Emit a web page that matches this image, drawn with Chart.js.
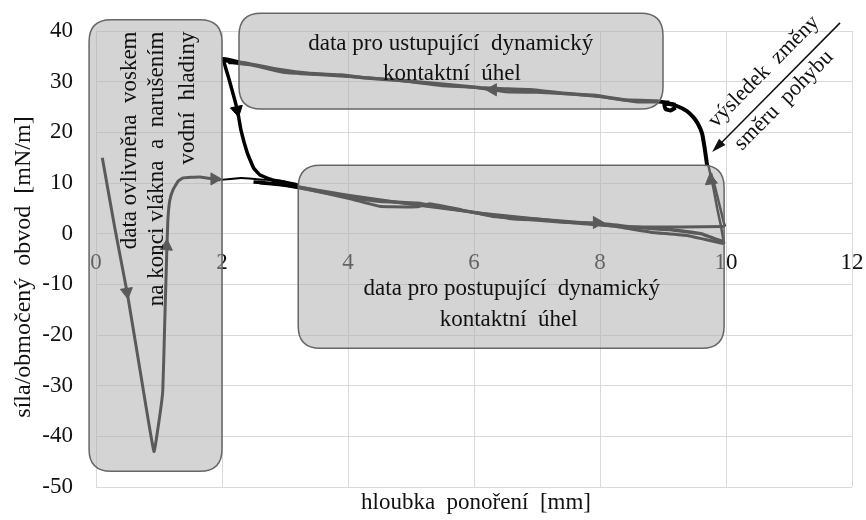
<!DOCTYPE html>
<html>
<head>
<meta charset="utf-8">
<script src="https://cdn.jsdelivr.net/npm/chart.js@4.4.1/dist/chart.umd.min.js"></script>
<style>
  html, body { margin: 0; padding: 0; background: #fff; }
  #wrap { width: 866px; height: 520px; }
</style>
</head>
<body>
<div id="wrap"><canvas id="chart" width="866" height="520"></canvas></div>
<script>
// x ticks / y ticks
const xTicks = [0, 2, 4, 6, 8, 10, 12];
const yTicks = [-50, -40, -30, -20, -10, 0, 10, 20, 30, 40];

// wax-affected start
const waxX = [0.1, 0.3, 0.5, 0.7, 0.92, 1.0, 1.06, 1.09, 1.12, 1.14, 1.17, 1.22, 1.3, 1.38, 1.65, 1.97];
const waxY = [15, 1, -12, -27, -43, -37, -31, -18, -5, 2.5, 6.5, 8.6, 10.3, 11, 11.2, 10.6];

// first cycle transitions
const flatX = [1.97, 2.3, 2.6, 2.9, 3.2];
const flatY = [10.6, 11.0, 10.7, 10.5, 9.8];
const downX = [2.29, 2.02, 2.1, 2.2, 2.25, 2.3, 2.4, 2.5, 2.6, 2.8, 3.0, 3.2];
const downY = [33.8, 34.6, 31, 26.5, 24, 20.5, 16, 13, 11.6, 10.6, 10.1, 9.4];
const turnX = [9.70, 9.66, 9.62, 9.55, 9.48, 9.38, 9.22, 9.1, 9.02, 9.04, 9.12, 9.2];
const turnY = [13.5, 17, 19.8, 21.8, 23.0, 24.2, 25.2, 25.6, 25.5, 24.6, 24.3, 24.9];

// advancing
const adv1X = [2.5, 2.9, 3.2, 3.6, 4.0, 4.5, 5.1, 5.6, 6.1, 6.6, 7.0, 7.4, 8.0, 8.6, 9.1, 9.6, 9.95];
const adv1Y = [10.2, 9.8, 9.2, 8.2, 7.3, 6.4, 6.0, 5.0, 4.0, 3.0, 2.7, 2.3, 2.0, 1.2, 0.8, 0.0, -1.6];
const adv2X = [2.6, 3.0, 3.4, 4.0, 4.5, 4.7, 5.1, 5.3, 5.8, 6.3, 6.9, 7.5, 8.1, 8.7, 9.3, 9.97];
const adv2Y = [10.0, 9.5, 8.6, 7.0, 5.4, 5.3, 5.3, 5.9, 4.7, 3.4, 3.0, 2.4, 1.6, 1.3, 1.3, 1.4];
const adv3X = [3.0, 4.0, 5.0, 6.0, 7.0, 7.6, 8.2, 8.8, 9.4, 9.97];
const adv3Y = [9.7, 7.6, 5.8, 4.2, 2.9, 2.1, 1.5, 0.3, -0.4, -2.0];

// turn at 10 mm
const up1X = [9.97, 9.92, 9.86, 9.8, 9.72];
const up1Y = [-2.0, 1.5, 5, 9, 13.5];
const up2X = [9.98, 9.94, 9.88, 9.82, 9.76];
const up2Y = [1.4, 3.5, 6.5, 9.5, 12];

// receding
const rec1X = [9.2, 8.9, 8.4, 7.9, 7.4, 6.9, 6.4, 6.1, 5.6, 4.8, 4.3, 3.9, 3.4, 2.9, 2.4, 2.0];
const rec1Y = [25.5, 26.2, 26.4, 27.3, 27.7, 28.4, 28.6, 28.8, 29.4, 30.3, 30.7, 31.3, 31.6, 32.4, 33.6, 34.2];
const rec2X = [9.1, 8.6, 8.1, 7.6, 7.0, 6.5, 6.0, 5.5, 5.0, 4.5, 4.0, 3.5, 3.0, 2.5, 2.1];
const rec2Y = [26.0, 26.0, 26.9, 27.5, 27.9, 28.0, 28.9, 29.2, 30.0, 30.6, 31.0, 31.4, 31.8, 33.2, 33.8];

// direction arrows
const arrowX = [0.49, 1.12, 1.88, 2.24, 6.3, 7.95, 9.76];
const arrowY = [-11.5, -2.5, 10.8, 24.4, 28.4, 2.2, 10.5];
const arrowRot = [172, 4, 90, 168, 270, 90, 352];

const INK = '#000';
const FONT = '"Liberation Serif", "Times New Roman", serif';

function pts(xs, ys) {
  return xs.map((x, i) => ({ x: x, y: ys[i] }));
}

function line(xs, ys, width) {
  return {
    data: pts(xs, ys),
    showLine: true,
    borderColor: INK,
    backgroundColor: INK,
    borderWidth: width,
    pointRadius: 0,
    tension: 0.1
  };
}

// shaded note boxes, in data units
const boxes = [
  { x1: -0.11, x2: 2.0, y1: 42.2, y2: -46.9 },
  { x1: 2.27, x2: 9.0, y1: 43.5, y2: 24.6 },
  { x1: 3.21, x2: 9.97, y1: 13.5, y2: -22.6 }
];

function roundBox(ctx, l, t, r, b, rad) {
  ctx.beginPath();
  ctx.moveTo(l + rad, t);
  ctx.lineTo(r - rad, t);
  ctx.quadraticCurveTo(r, t, r, t + rad);
  ctx.lineTo(r, b - rad);
  ctx.quadraticCurveTo(r, b, r - rad, b);
  ctx.lineTo(l + rad, b);
  ctx.quadraticCurveTo(l, b, l, b - rad);
  ctx.lineTo(l, t + rad);
  ctx.quadraticCurveTo(l, t, l + rad, t);
  ctx.closePath();
}

const notes = {
  id: 'notes',
  afterDraw(chart) {
    const { ctx, scales: { x, y } } = chart;
    const px = v => x.getPixelForValue(v);
    const py = v => y.getPixelForValue(v);
    ctx.save();

    // boxes lie over the curves, so the curves show gray through them
    boxes.forEach(b => {
      roundBox(ctx, px(b.x1), py(b.y1), px(b.x2), py(b.y2), 22);
      ctx.fillStyle = 'rgba(173,173,173,0.52)';
      ctx.fill();
      ctx.strokeStyle = '#666';
      ctx.lineWidth = 1.5;
      ctx.stroke();
    });

    ctx.fillStyle = '#111';
    ctx.strokeStyle = '#111';
    ctx.font = '23px ' + FONT;
    ctx.textBaseline = 'middle';

    const vLines = [['data ovlivněna  voskem', 0.54], ['na konci vlákna  a  narušením', 0.97], ['vodní  hladiny', 1.46]];
    vLines.forEach(([txt, xv]) => {
      ctx.save();
      ctx.translate(px(xv), py(39.9));
      ctx.rotate(-Math.PI / 2);
      ctx.textAlign = 'right';
      ctx.fillText(txt, 0, 0);
      ctx.restore();
    });

    ctx.textAlign = 'center';
    ctx.fillText('data pro ustupující  dynamický', px(5.63), py(37.5));
    ctx.fillText('kontaktní  úhel', px(5.65), py(31.6));
    ctx.fillText('data pro postupující  dynamický', px(6.6), py(-10.9));
    ctx.fillText('kontaktní  úhel', px(6.55), py(-17.1));

    // direction change note
    const sx = px(11.81), sy = py(41.6);
    const ex = px(9.78), ey = py(16.1);
    const ang = Math.atan2(ey - sy, ex - sx);
    ctx.lineWidth = 1.5;
    ctx.beginPath();
    ctx.moveTo(sx, sy);
    ctx.lineTo(ex - 10 * Math.cos(ang), ey - 10 * Math.sin(ang));
    ctx.stroke();
    ctx.beginPath();
    ctx.moveTo(ex, ey);
    ctx.lineTo(ex - 15 * Math.cos(ang - 0.3), ey - 15 * Math.sin(ang - 0.3));
    ctx.lineTo(ex - 15 * Math.cos(ang + 0.3), ey - 15 * Math.sin(ang + 0.3));
    ctx.closePath();
    ctx.fill();

    ctx.font = '22px ' + FONT;
    [['výsledek  změny', 10.6, 32.0], ['směru  pohybu', 10.92, 26.3]].forEach(([txt, xv, yv]) => {
      ctx.save();
      ctx.translate(px(xv), py(yv));
      ctx.rotate(ang + Math.PI);
      ctx.fillText(txt, 0, 0);
      ctx.restore();
    });

    // axis titles
    ctx.font = '23px ' + FONT;
    ctx.fillText('hloubka  ponoření  [mm]', 476, 503);
    ctx.font = '24px ' + FONT;
    ctx.save();
    ctx.translate(24, 267);
    ctx.rotate(-Math.PI / 2);
    ctx.fillText('síla/območený  obvod  [mN/m]', 0, 0);
    ctx.restore();
    ctx.restore();
  }
};

const datasets = [
  line(waxX, waxY, 3),
  line(adv1X, adv1Y, 3.5),
  line(adv2X, adv2Y, 3),
  line(adv3X, adv3Y, 3),
  line(up1X, up1Y, 2.5),
  line(up2X, up2Y, 2.5),
  line(rec1X, rec1Y, 3.5),
  line(rec2X, rec2Y, 3),
  line(flatX, flatY, 2),
  line(downX, downY, 3.5),
  line(turnX, turnY, 4),
  {
    data: pts(arrowX, arrowY),
    showLine: false,
    pointStyle: 'triangle',
    pointRadius: 7,
    pointRotation: arrowRot,
    pointBackgroundColor: INK,
    pointBorderColor: INK,
    pointBorderWidth: 1
  }
];

new Chart(document.getElementById('chart'), {
  type: 'scatter',
  data: { datasets: datasets },
  plugins: [notes],
  options: {
    responsive: false,
    animation: false,
    layout: { padding: { left: 0, right: 14, top: 31, bottom: 33 } },
    plugins: { legend: { display: false }, tooltip: { enabled: false } },
    scales: {
      x: {
        type: 'linear',
        position: { y: 0 },
        min: 0,
        max: 12,
        afterBuildTicks: s => { s.ticks = xTicks.map(v => ({ value: v })); },
        afterFit: s => { s.paddingLeft = 0; s.paddingRight = 0; },
        grid: { color: '#d9d9d9', lineWidth: 1, drawTicks: false },
        border: { display: false },
        ticks: { color: '#111', padding: 15, maxRotation: 0, font: { family: FONT, size: 23 } }
      },
      y: {
        type: 'linear',
        min: -50,
        max: 40,
        afterBuildTicks: s => { s.ticks = yTicks.map(v => ({ value: v })); },
        afterFit: s => { s.width = 96; s.paddingTop = 0; s.paddingBottom = 0; },
        grid: { color: '#d9d9d9', lineWidth: 1, drawTicks: false },
        border: { display: false },
        ticks: { color: '#111', padding: 23, font: { family: FONT, size: 23 } }
      }
    }
  }
});
</script>
</body>
</html>
